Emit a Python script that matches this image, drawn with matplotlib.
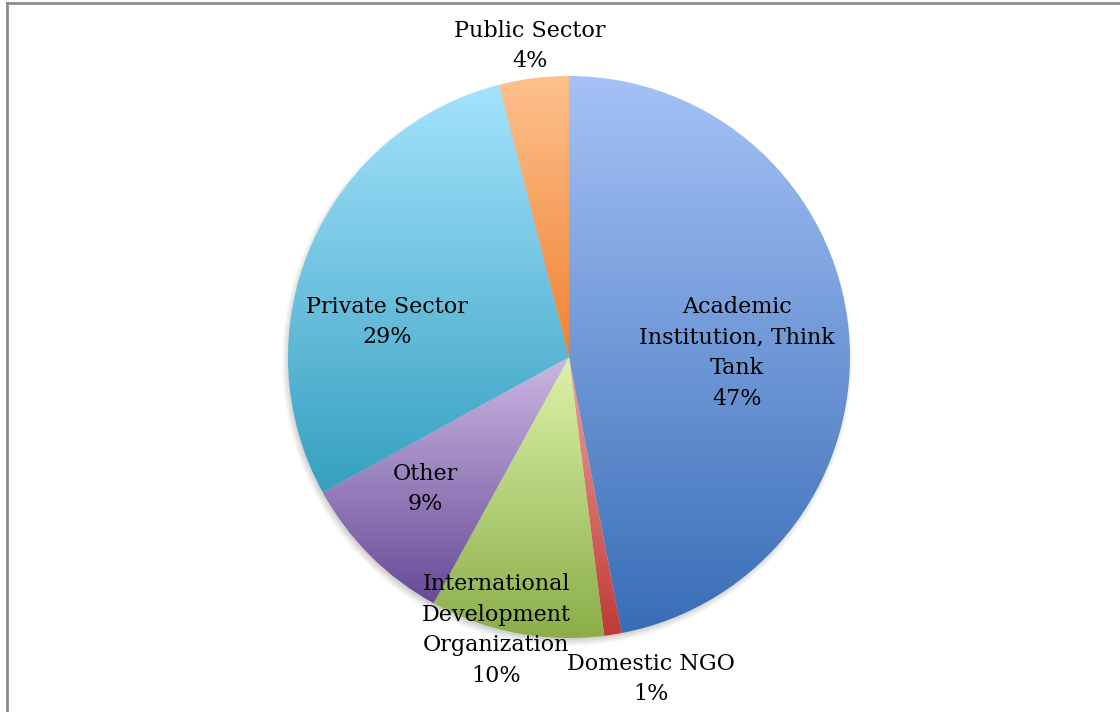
import matplotlib
matplotlib.use("Agg")
import matplotlib.pyplot as plt
import numpy as np
from matplotlib.colors import LinearSegmentedColormap
from matplotlib.patches import Circle

# survey share by organisation type, clockwise from 12 o'clock
labels = ["Academic\nInstitution, Think\nTank", "Domestic NGO",
          "International\nDevelopment\nOrganization", "Other",
          "Private Sector", "Public Sector"]
shares = [47, 1, 10, 9, 29, 4]
# (top colour, bottom colour) for each slice's gradient fill
grads = [("#a6c2f7", "#386db6"), ("#eda3a1", "#bf3a36"),
         ("#ddf3aa", "#8aae48"), ("#cbb8e3", "#684a97"),
         ("#a4e3fd", "#36a0c0"), ("#fdc18d", "#f08232")]
label_pos = [(737, 353), (651, 679), (496, 630), (425, 489), (387, 322), (530, 46)]

W, H = 1120, 712
fig = plt.figure(figsize=(W / 100, H / 100), dpi=100)
ax = fig.add_axes([0, 0, 1, 1])

cx, cy, r = 569, H - 357, 281

# soft shadow under the pie
for k in range(8):
    ax.add_patch(Circle((cx - 2, cy - 4), r + 4 - k, color="black",
                        alpha=0.025, lw=0, zorder=1))

wedges, _ = ax.pie(shares, startangle=90, counterclock=False,
                   center=(cx, cy), radius=r, frame=True,
                   wedgeprops=dict(linewidth=0, facecolor="none"))
ax.set_xlim(0, W)
ax.set_ylim(0, H)
ax.set_aspect("equal")
ax.axis("off")

ramp = np.linspace(0, 1, 256).reshape(-1, 1)
for w, (top, bot) in zip(wedges, grads):
    w.set_zorder(3)
    bb = w.get_path().get_extents(w.get_transform() - ax.transData)
    cmap = LinearSegmentedColormap.from_list("g", [bot, top])
    im = ax.imshow(ramp, cmap=cmap, aspect="auto", origin="lower",
                   extent=(bb.x0, bb.x1, bb.y0, bb.y1), zorder=2,
                   interpolation="bilinear")
    im.set_clip_path(w)

for lab, s, (x, y) in zip(labels, shares, label_pos):
    ax.text(x, H - y, f"{lab}\n{s}%", ha="center", va="center",
            fontsize=16, family="DejaVu Serif", linespacing=1.5,
            color="black", zorder=5)

# chart-area frame (top and left edges visible)
ax.plot([7, 7], [0, H - 3], color="#8c8c8c", lw=2, zorder=6)
ax.plot([7, W], [H - 3, H - 3], color="#8c8c8c", lw=2, zorder=6)

fig.savefig("out.png", dpi=100)
